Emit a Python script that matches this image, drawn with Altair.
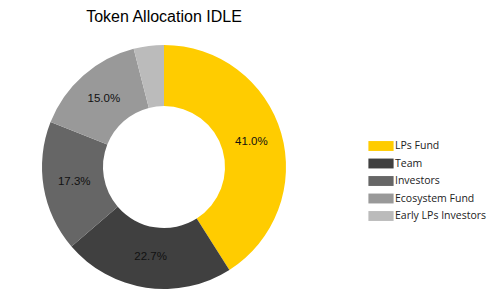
import altair as alt
import pandas as pd

categories = ["LPs Fund", "Team", "Investors", "Ecosystem Fund", "Early LPs Investors"]
values = [41.0, 22.7, 17.3, 15.0, 4.0]
labels = ["41.0%", "22.7%", "17.3%", "15.0%", ""]
colors = ["#FFCC00", "#404040", "#666666", "#999999", "#BBBBBB"]

df = pd.DataFrame({
    "category": categories,
    "value": values,
    "label": labels,
    "order": list(range(len(categories))),
})

cx, cy = 164, 167

base = alt.Chart(df).encode(
    theta=alt.Theta("value:Q", stack=True),
    order=alt.Order("order:Q", sort="ascending"),
)

arcs = base.mark_arc(radius=122, radius2=61, strokeWidth=0).encode(
    x=alt.value(cx),
    y=alt.value(cy),
    color=alt.Color(
        "category:N",
        scale=alt.Scale(domain=categories, range=colors),
        sort=categories,
        legend=alt.Legend(
            title=None,
            orient="none",
            legendX=372,
            legendY=137,
            symbolType="M-1.4,-0.55 L1.4,-0.55 L1.4,0.55 L-1.4,0.55 Z",
            symbolSize=324,
            symbolStrokeWidth=0,
            labelFont="Open Sans",
            labelFontSize=10.5,
            labelColor="#222222",
            rowPadding=2.5,
            labelOffset=5,
        ),
    ),
)

text = base.mark_text(radius=91, font="Liberation Sans", fontSize=11.5, color="#111111").encode(
    x=alt.value(cx),
    y=alt.value(cy),
    text="label:N",
)

chart = (
    alt.layer(arcs, text)
    .properties(
        width=500,
        height=299,
        padding=0,
        autosize=alt.AutoSizeParams(type="none"),
        title=alt.TitleParams(
            "Token Allocation IDLE",
            font="Liberation Sans",
            fontSize=16,
            fontWeight="normal",
            color="#000000",
            anchor="middle",
            dx=-86,
            dy=29,
        ),
    )
    .configure_view(stroke=None)
)

chart.save("out.html", embed_options={"renderer": "svg", "actions": False})
